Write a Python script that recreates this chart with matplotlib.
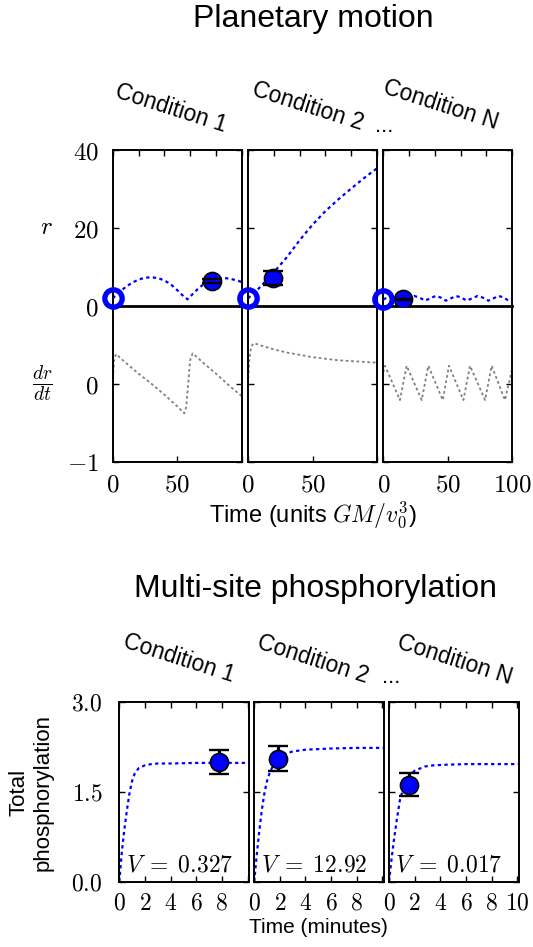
import matplotlib
matplotlib.use('Agg')
import matplotlib.pyplot as plt

plt.rcParams['font.family'] = ['Liberation Sans', 'DejaVu Sans']
plt.rcParams['mathtext.fontset'] = 'cm'

# ---- Planetary motion (t in units GM/v0^3) ----
conditions = ['Condition 1', 'Condition 2', 'Condition N']

r_t = [
    [0, 5, 10, 15, 20, 25, 30, 35, 40, 45, 50, 55, 58, 62, 66, 70, 75, 80, 85, 90, 95, 100],
    [0, 5, 10, 15, 20, 30, 40, 50, 60, 70, 80, 90, 100],
    [0, 3.5, 7, 11, 15.5, 19.5, 24, 28, 32.3, 36.5, 40.5, 44.5, 48.5, 52.5, 56.5,
     60.5, 64.6, 69, 73, 77, 81.4, 85.5, 89.5, 93.5, 97, 100],
]
r_val = [
    [1.9, 3.4, 4.8, 5.9, 6.7, 7.2, 7.3, 7.1, 6.5, 5.5, 4.0, 2.4, 1.65, 3.0, 4.3, 5.4, 6.3, 6.9, 7.1, 7.0, 6.6, 6.1],
    [1.9, 3.3, 5.0, 6.8, 8.6, 12.4, 16.8, 20.8, 24.3, 27.3, 30.1, 32.8, 35.3],
    [1.6, 2.2, 2.5, 2.1, 1.3, 1.9, 2.5, 2.1, 1.3, 1.9, 2.5, 2.1, 1.3, 1.9, 2.5,
     2.1, 1.3, 1.9, 2.5, 2.1, 1.3, 1.9, 2.5, 2.1, 1.3, 1.7],
]
dr_t = [
    [0, 1, 2.6, 10, 20, 30, 40, 50, 55.5, 57, 58.5, 60, 62, 70, 80, 90, 100],
    [0, 1, 2.5, 4.7, 10, 20, 30, 40, 50, 60, 70, 80, 90, 100],
    [0, 1.3, 12.9, 18.1, 29.8, 34.9, 46.1, 50.9, 62.1, 67.2, 78.9, 84, 94.3, 100],
]
dr_val = [
    [0.0, 0.3, 0.38, 0.27, 0.13, 0.0, -0.14, -0.29, -0.38, -0.3, 0.0, 0.3, 0.39, 0.27, 0.13, -0.02, -0.16],
    [0.0, 0.3, 0.48, 0.52, 0.49, 0.44, 0.40, 0.37, 0.34, 0.32, 0.30, 0.29, 0.28, 0.27],
    [0.15, 0.23, -0.21, 0.23, -0.21, 0.23, -0.21, 0.23, -0.21, 0.23, -0.21, 0.23, -0.21, 0.2],
]
r0 = [1.9, 1.9, 1.6]            # initial condition (open circles)
r_obs_t = [76.7, 19.4, 15.5]
r_obs = [6.4, 7.1, 1.65]
r_obs_err = [0.55, 1.9, 0.08]

# ---- Multi-site phosphorylation (t in minutes) ----
p_t = [
    [0, 0.2, 0.4, 0.6, 0.8, 1.0, 1.2, 1.5, 2.0, 2.5, 3, 4, 6, 8, 10.1],
    [0, 0.2, 0.4, 0.6, 0.8, 1.0, 1.2, 1.5, 2.0, 2.5, 3, 4, 6, 8, 10.1],
    [0, 0.2, 0.4, 0.6, 0.85, 1.1, 1.5, 2.0, 2.8, 3.5, 4.5, 6, 8, 10.1],
]
p_val = [
    [0, 0.5, 0.88, 1.2, 1.48, 1.68, 1.8, 1.89, 1.94, 1.96, 1.97, 1.97, 1.98, 1.98, 1.98],
    [0, 0.45, 0.85, 1.2, 1.48, 1.68, 1.81, 1.95, 2.08, 2.14, 2.17, 2.2, 2.22, 2.23, 2.23],
    [0, 0.38, 0.72, 1.02, 1.36, 1.55, 1.75, 1.85, 1.92, 1.94, 1.95, 1.96, 1.96, 1.96],
]
p_obs_t = [7.77, 1.87, 1.58]
p_obs = [2.0, 2.05, 1.62]
p_obs_err = [0.2, 0.21, 0.19]
v_labels = [r'$V\;=\;0.327$', r'$V\;=\;12.92$', r'$V\;=\;0.017$']

W, H = 533, 947
fig = plt.figure(figsize=(W / 100, H / 100), dpi=100)


def rect(x, y, w, h):
    # pixel box (from top-left) -> figure fraction
    return [x / W, 1 - (y + h) / H, w / W, h / H]


def fig_text(x, y, s, **kw):
    fig.text(x / W, 1 - y / H, s, **kw)


blue = '#0000ff'
dots = (0, (1.5, 1.5))


def style(ax, size):
    for sp in ax.spines.values():
        sp.set_linewidth(1.4)
    ax.tick_params(direction='in', length=4, width=1, labelsize=size,
                   top=True, right=True)


def data_point(ax, t, y, err):
    # marker over the bar, caps over the marker
    ax.plot([t], [y], 'o', ms=13, mfc=blue, mec='black', mew=1.2, zorder=5)
    _, caps, bars = ax.errorbar([t], [y], yerr=[err], fmt='none', ecolor='black',
                                elinewidth=2.2, capsize=7, capthick=1.7)
    for c in caps:
        c.set_zorder(6)
    for b in bars:
        b.set_zorder(4)


# ---------------- Planetary motion ----------------
fig_text(313, 27, 'Planetary motion', ha='center', va='baseline', fontsize=23)
top_left = [112.7, 248, 383.3]
cond_pos_top = [(114, 97), (251, 95), (382, 93)]
for i in range(3):
    ax_d = fig.add_axes(rect(top_left[i], 305.7, 129, 156))
    ax_r = fig.add_axes(rect(top_left[i], 150, 129, 155.7))
    ax_r.set_zorder(2 + i)
    ax_d.set_zorder(1)
    ax_r.patch.set_alpha(0)
    for ax in (ax_r, ax_d):
        style(ax, 18)
        ax.set_xlim(0, 100)

    ax_r.plot(r_t[i], r_val[i], color=blue, lw=1.6, ls=dots)
    data_point(ax_r, r_obs_t[i], r_obs[i], r_obs_err[i])
    ax_r.plot([0], [r0[i]], 'o', ms=12.5, mfc='none', mec=blue, mew=3.8,
              clip_on=False, zorder=10)
    ax_r.set_ylim(0, 40)
    ax_r.set_yticks([0, 20, 40])
    ax_r.set_xticks([0, 20, 40, 60, 80, 100])
    ax_r.tick_params(axis='x', bottom=False, labelbottom=False)
    ax_r.spines['bottom'].set_linewidth(2)

    ax_d.plot(dr_t[i], dr_val[i], color='#808080', lw=1.3, ls=dots)
    ax_d.set_ylim(-1, 1)
    ax_d.set_yticks([-1, 0])
    ax_d.set_xticks([0, 50, 100])
    ax_d.tick_params(axis='x', top=False, pad=8)
    ax_d.spines['top'].set_visible(False)
    if i < 2:
        ax_d.set_xticklabels(['$0$', '$50$', ''])
    else:
        ax_d.set_xticklabels(['$0$', '$50$', '$100$'])

    if i == 0:
        ax_r.set_yticklabels(['$0$', '$20$', '$40$'])
        ax_d.set_yticklabels(['$-1$', '$0$'])
        ax_r.tick_params(axis='y', pad=10)
        ax_d.tick_params(axis='y', pad=10)
    else:
        ax_r.tick_params(axis='y', labelleft=False)
        ax_d.tick_params(axis='y', labelleft=False)

    cx, cy = cond_pos_top[i]
    fig_text(cx, cy, conditions[i], rotation=-17.7, rotation_mode='anchor',
             ha='left', va='baseline', fontsize=16.4)

fig_text(375, 132, '...', ha='left', va='baseline', fontsize=16)
fig_text(46, 227, '$r$', ha='center', va='center', fontsize=18)
fig_text(42, 384, r'$\frac{dr}{dt}$', ha='center', va='center', fontsize=20)
fig_text(313, 522, r'Time (units $GM/v_0^3$)', ha='center', va='baseline', fontsize=17)

# ---------------- Multi-site phosphorylation ----------------
fig_text(315, 597, 'Multi-site phosphorylation', ha='center', va='baseline', fontsize=23)
bot_left = [119.3, 254.2, 389]
cond_pos_bot = [(122.5, 647), (255.7, 648), (395.5, 648)]
for i in range(3):
    ax = fig.add_axes(rect(bot_left[i], 701.7, 129.5, 180))
    style(ax, 17)
    ax.plot(p_t[i], p_val[i], color=blue, lw=1.6, ls=dots)
    data_point(ax, p_obs_t[i], p_obs[i], p_obs_err[i])
    ax.set_xlim(0, 10.1)
    ax.set_ylim(0, 3)
    ax.set_xticks([0, 2, 4, 6, 8, 10])
    ax.set_yticks([0, 1.5, 3])
    ax.tick_params(axis='x', pad=8)
    if i < 2:
        ax.set_xticklabels(['$0$', '$2$', '$4$', '$6$', '$8$', ''])
    else:
        ax.set_xticklabels(['$0$', '$2$', '$4$', '$6$', '$8$', '$10$'])
    if i == 0:
        ax.set_yticklabels(['$0.0$', '$1.5$', '$3.0$'])
        ax.tick_params(axis='y', pad=12)
    else:
        ax.tick_params(axis='y', labelleft=False)
    ax.text(0.05, 0.056, v_labels[i], transform=ax.transAxes,
            ha='left', va='baseline', fontsize=17)

    cx, cy = cond_pos_bot[i]
    fig_text(cx, cy, conditions[i], rotation=-17.7, rotation_mode='anchor',
             ha='left', va='baseline', fontsize=16.4)

fig_text(382, 683, '...', ha='left', va='baseline', fontsize=16)
fig_text(318, 933, 'Time (minutes)', ha='center', va='baseline', fontsize=15)
fig_text(31, 792, 'Total\nphosphorylation', ha='center', va='center',
         rotation=90, fontsize=16, multialignment='center')

fig.savefig('out.png', dpi=100)
